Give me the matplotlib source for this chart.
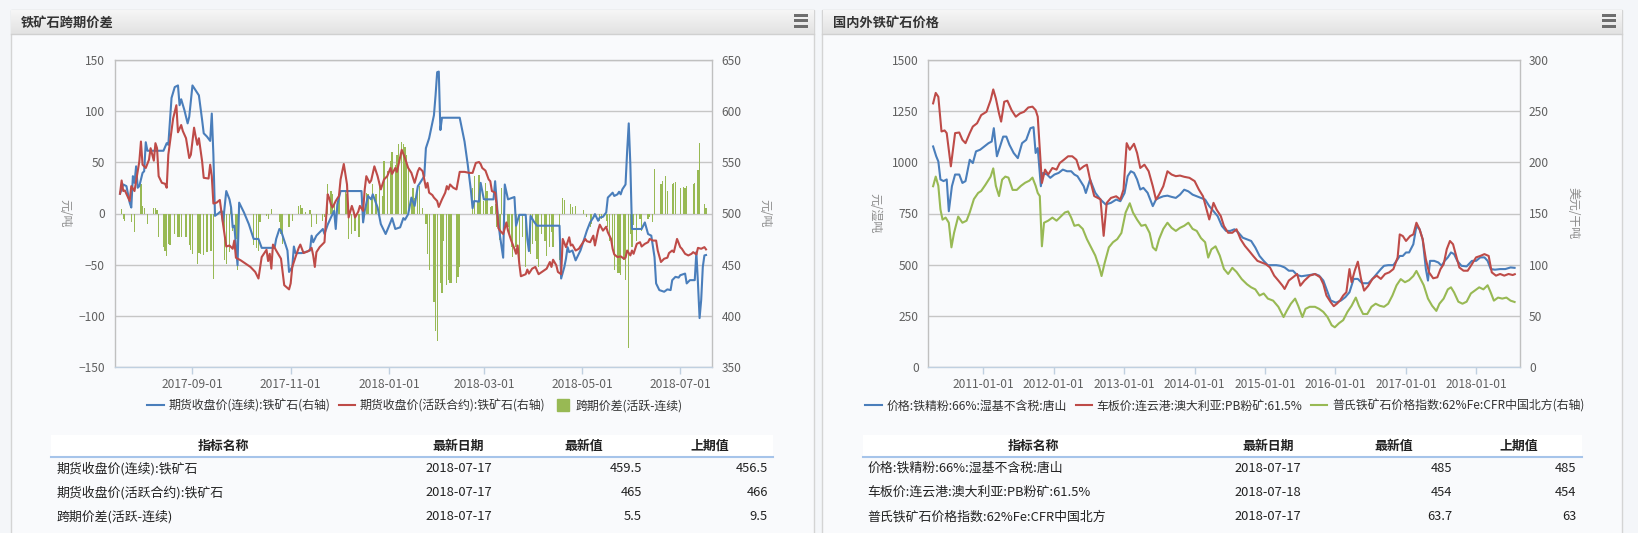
import numpy as np
import pandas as pd
import matplotlib
matplotlib.use("Agg")
import matplotlib.pyplot as plt
import matplotlib.dates as mdates
from matplotlib.patches import Rectangle
from matplotlib.lines import Line2D

plt.rcParams['font.family'] = ['Noto Sans CJK SC', 'DejaVu Sans']

# ---------------- DATA: left chart (days counted from 2017-09-01) ----------------
left_base = "2017-09-01"
cont_day = [-45,-43,-41,-39,-38,-37,-36,-35,-34,-33,-32,-31,-30,-29,-28,-18,-16,-15,-13,-11,
            -9,-8,-7,-5,-3,-2,0,2,4,6,7,9,11,12,13,14,16,18,19,21,23,24,25,26,28,29,32,35,38,41,
            43,51,52,54,55,57,59,60,62,63,64,68,73,74,75,76,77,80,81,82,84,86,88,89,90,92,105,106,107,109,
            111,112,115,117,120,123,124,126,129,131,132,134,136,138,140,141,
            144,145,147,150,151,152,153,154,155,166,169,171,173,174,175,178,179,181,187,188,
            190,191,193,194,196,200,201,203,207,208,209,210,212,214,228,229,231,232,233,234,
            236,238,241,243,245,247,249,250,252,253,255,257,258,260,261,262,264,265,266,267,
            269,270,271,272,273,279,281,283,285,287,288,290,293,295,297,298,300,302,303,306,
            307,309,312,313,314,315,316,317,318,319]
cont_price = [519.3,528.3,526.7,510.6,505.8,536.4,529.9,546.0,525.1,526.7,533.2,539.6,541.2,569.5,561.2,561.2,568.6,567.0,612.7,623.3,
              624.9,605.6,611.4,600.8,587.9,594.3,624.9,620.1,615.2,591.1,578.2,575.0,570.8,597.5,557.3,497.7,500.0,502.6,491.3,521.9,
              513.8,505.8,486.5,488.1,449.5,510.6,501.0,489.7,475.2,475.2,466.5,466.5,475.2,484.9,483.3,473.6,463.9,443.0,447.9,467.8,
              461.4,461.4,463.9,478.4,472.0,475.2,478.4,483.3,484.9,480.0,489.1,496.1,502.6,484.9,509.0,521.9,521.9,491.3,502.6,517.1,
              513.8,518.7,505.8,489.7,480.0,491.3,495.5,484.9,486.5,495.5,493.9,499.4,515.5,507.4,526.7,529.0,
              536.4,563.7,573.4,595.9,615.2,637.8,638.4,581.4,593.4,593.4,570.2,547.6,521.9,505.2,512.2,511.6,529.9,513.8,513.8,531.5,
              491.3,478.4,456.9,528.3,513.8,516.1,488.1,498.7,498.7,475.2,463.3,497.7,492.3,488.1,488.1,436.6,447.9,455.9,467.2,462.3,
              463.9,454.3,463.9,473.6,483.3,491.3,496.1,499.4,492.9,496.1,496.8,501.0,515.5,518.7,520.3,517.1,518.7,521.2,518.7,523.5,
              528.3,560.5,587.9,547.6,484.9,484.9,491.3,480.0,478.4,457.5,431.8,425.3,423.7,426.0,425.3,435.0,438.2,437.5,439.8,441.4,
              431.8,435.0,435.0,462.3,431.8,398.0,415.7,447.9,459.1,459.5]

active_day = [-45,-44,-43,-42,-40,-39,-38,-36,-35,-33,-32,-31,-29,-27,-26,-24,-23,-22,-21,-19,
              -17,-16,-15,-13,-12,-10,-9,-7,-6,-4,-2,-1,1,2,3,4,6,7,10,11,
              12,13,15,17,19,21,23,25,26,27,30,36,39,41,43,45,46,47,48,49,
              50,52,55,57,60,61,62,64,66,67,69,72,74,75,76,77,79,81,82,84,
              85,86,87,89,91,92,94,96,97,99,100,101,103,104,106,107,108,110,111,113,
              115,117,119,121,123,124,126,127,129,130,132,134,136,138,140,141,
              143,145,146,147,149,150,152,153,155,157,158,159,160,162,164,166,169,172,174,176,
              178,179,180,182,184,185,186,188,189,190,191,193,195,196,198,200,201,202,203,204,
              207,208,209,211,213,215,217,220,222,223,224,226,227,229,230,232,234,235,236,238,
              240,242,244,245,247,249,250,252,253,255,257,258,260,261,262,264,266,268,269,270,
              272,273,274,276,278,279,281,283,284,286,288,289,291,293,295,296,298,299,301,303,
              304,306,308,310,311,313,314,316,318,319]
active_price = [519.3,532.2,521.9,522.5,515.5,512.2,526.7,521.9,531.5,550.9,570.2,547.6,544.4,552.5,563.7,551.5,568.6,563.7,536.4,529.9,
                529.0,525.1,557.3,581.4,592.7,605.6,579.2,586.3,580.5,573.4,554.1,557.3,583.7,575.0,567.0,573.4,550.9,534.8,534.1,547.6,
                536.4,509.7,510.6,513.2,489.7,467.8,468.8,465.6,473.6,456.9,454.3,447.9,443.0,436.6,457.5,462.3,464.6,453.6,460.7,446.2,
                469.7,463.9,455.9,430.1,426.0,431.8,447.9,457.5,466.5,469.7,461.4,463.3,466.5,459.1,447.9,462.3,467.2,470.4,472.0,518.7,
                514.8,509.0,505.8,512.2,517.1,533.2,548.3,528.3,496.1,507.4,502.6,496.1,501.9,507.4,502.6,523.5,536.4,529.9,532.2,546.0,
                536.4,523.5,533.2,536.4,544.4,538.6,544.4,540.6,554.7,562.1,554.1,544.4,539.6,529.9,541.2,544.4,
                541.2,525.1,529.9,520.3,518.0,515.5,512.2,506.4,513.8,520.3,526.7,523.5,528.3,525.1,523.5,540.6,540.6,539.6,539.6,549.3,
                550.2,548.3,544.4,541.8,533.2,531.5,521.9,520.3,507.4,485.8,483.3,480.0,491.3,483.3,473.6,465.6,460.7,468.8,451.1,438.8,
                440.8,445.3,441.4,446.2,447.9,440.8,443.0,446.2,452.7,447.9,454.9,449.5,443.0,440.8,475.2,467.2,476.8,468.8,469.7,463.9,
                465.6,470.4,475.2,473.0,472.0,478.4,468.8,483.9,489.1,483.3,487.1,481.7,475.2,465.6,460.1,457.5,458.2,455.9,456.9,463.9,
                459.1,463.9,460.7,470.4,472.0,467.8,470.4,472.0,475.2,473.6,473.6,463.9,452.7,455.9,456.9,461.4,463.9,462.3,475.2,467.2,
                465.6,460.7,459.1,460.7,462.3,460.1,466.5,465.6,467.2,465.0]

spread_day = [-44,-43,-42,-38,-36,-32,-31,-30,-28,-24,-23,-22,-21,-18,-17,-16,-15,-14,-11,-9,
              -8,-7,-4,-2,-1,0,3,4,5,7,9,11,12,13,19,20,21,23,24,25,
              27,28,38,40,41,42,46,47,49,54,55,56,60,62,66,67,68,70,73,74,
              77,81,82,84,86,87,88,91,95,96,97,99,101,103,104,108,109,111,112,114,
              116,118,119,121,123,124,126,127,128,130,131,132,133,134,136,137,138,140,
              141,143,145,146,147,150,151,152,154,155,156,158,159,160,161,164,165,166,174,175,
              177,178,179,181,182,183,185,186,188,189,191,192,193,196,197,198,199,201,203,205,
              207,210,211,213,214,215,217,219,220,222,223,224,228,230,231,235,236,238,243,245,
              247,248,250,253,254,257,258,259,261,262,264,265,266,268,269,271,272,273,274,276,
              278,279,283,284,286,287,291,292,294,295,298,299,300,303,305,306,307,311,312,314,
              315,318,319]
spread_val = [4.2,-5.5,-7.1,-8.7,-18.3,28.3,7.4,5.2,-10.3,5.8,5.8,3.2,-23.2,-32.2,-36.1,-41.9,-29.6,-30.3,-19.9,-23.2,
              -22.5,-23.2,-22.5,-31.2,-35.4,-39.9,-49.2,-38.6,-39.3,-40.9,-37.7,-36.1,-36.1,-63.5,2.6,-45.4,-49.2,-37.7,5.8,-16.7,
              -24.5,-55.0,-31.2,-33.2,-36.1,-8.7,-2.3,-5.5,4.2,-8.7,-19.9,-29.6,-13.5,-7.1,7.4,8.4,5.8,1.9,3.2,-13.5,
              -10.3,-7.1,-3.9,29.0,21.6,18.7,9.0,18.7,21.2,18.7,-24.5,-19.9,-16.7,-23.2,-23.2,20.3,18.7,15.5,28.3,18.7,
              31.9,17.1,51.2,41.5,51.2,59.6,47.7,57.3,67.9,69.9,67.9,65.0,57.3,44.4,12.2,24.8,15.5,21.6,
              26.7,5.8,-10.3,-39.3,-55.0,-86.3,-114.9,-124.6,-68.0,-77.6,-26.4,-70.2,-65.0,-68.0,-68.0,-68.0,-61.5,-52.1,25.1,36.4,
              12.2,38.0,21.6,12.2,29.9,21.6,6.4,7.4,9.0,-13.5,-25.8,25.1,-36.1,-13.5,-21.6,-32.9,-42.5,-32.9,-49.2,-23.2,
              -52.1,-39.3,-29.6,-26.4,-44.4,-52.1,-19.9,-26.4,-41.2,-32.9,-18.3,-32.9,-45.4,15.5,13.5,9.7,6.4,7.4,3.2,-3.9,
              -13.5,-10.3,-3.9,-7.1,-5.5,-7.1,-13.5,-26.4,-29.6,-55.0,-58.0,-58.0,-60.0,-45.4,-65.0,-131.2,-19.9,-32.9,-11.6,-26.4,
              -5.5,-16.7,-5.5,-3.9,-8.7,43.1,28.3,31.9,36.4,21.6,28.3,29.9,31.2,25.1,25.8,25.1,26.7,28.3,30.0,42.2,
              68.3,9.5,5.5]

# ---------------- DATA: right chart (decimal years) ----------------
tangshan_yr = [2010.287,2010.331,2010.361,2010.391,2010.435,2010.480,2010.510,2010.554,2010.599,2010.658,
               2010.703,2010.747,2010.807,2010.851,2010.896,2010.955,2011.015,2011.074,2011.119,2011.149,
               2011.193,2011.238,2011.282,2011.327,2011.371,2011.431,2011.490,2011.550,2011.609,2011.669,
               2011.713,2011.743,2011.773,2011.817,2011.847,2011.906,2011.951,2012.010,2012.070,2012.129,
               2012.189,2012.248,2012.293,2012.337,2012.426,2012.456,2012.516,2012.590,2012.664,2012.738,
               2012.813,2012.887,2012.946,2013.006,2013.050,2013.095,2013.140,2013.184,2013.229,2013.273,
               2013.333,2013.407,2013.452,2013.496,2013.556,2013.615,2013.674,2013.734,2013.793,2013.853,
               2013.912,2013.972,2014.031,2014.091,2014.150,2014.209,2014.269,2014.328,2014.388,2014.447,
               2014.506,2014.566,2014.625,2014.685,2014.744,2014.804,2014.863,2014.923,2014.982,2015.041,
               2015.160,2015.220,2015.279,2015.339,2015.398,2015.457,2015.517,2015.576,2015.636,2015.710,
               2015.769,2015.829,2015.873,2015.933,2016.007,2016.081,2016.141,2016.200,2016.260,2016.319,
               2016.379,2016.468,2016.527,2016.587,2016.646,2016.691,2016.750,2016.824,2016.884,2016.914,
               2016.958,2017.003,2017.047,2017.107,2017.151,2017.196,2017.240,2017.285,2017.315,2017.344,
               2017.404,2017.463,2017.508,2017.552,2017.597,2017.642,2017.686,2017.731,2017.790,2017.864,
               2017.939,2017.998,2018.058,2018.117,2018.162,2018.206,2018.266,2018.340,2018.414,2018.488,
               2018.545]
tangshan_val = [1077,1029,1004,916,908,916,761,883,940,940,
                899,908,1012,996,1053,1061,1077,1093,1101,1166,
                1029,1077,1125,1125,1085,1045,1020,1093,1109,1166,
                1171,1045,1069,883,948,940,924,940,948,964,
                956,956,940,932,883,850,916,851,818,794,
                802,818,810,850,932,956,948,916,867,875,
                851,786,818,826,834,837,831,826,842,866,
                858,842,834,826,818,786,761,737,689,665,
                665,673,656,632,624,616,584,543,519,498,
                498,495,487,471,471,450,444,447,450,455,
                447,423,382,326,315,326,342,366,431,431,
                410,410,431,455,479,495,498,498,527,543,
                543,560,560,600,689,673,624,479,423,519,
                519,511,495,519,536,560,552,519,495,492,
                519,519,536,536,519,479,476,479,479,487,
                485]

pb_yr = [2010.287,2010.324,2010.361,2010.406,2010.450,2010.480,2010.539,2010.599,2010.658,2010.703,
         2010.747,2010.807,2010.851,2010.911,2010.970,2011.045,2011.104,2011.141,2011.178,2011.223,
         2011.253,2011.297,2011.342,2011.401,2011.461,2011.520,2011.579,2011.639,2011.698,2011.743,
         2011.773,2011.802,2011.832,2011.877,2011.921,2011.981,2012.040,2012.085,2012.144,2012.204,
         2012.263,2012.322,2012.367,2012.426,2012.471,2012.516,2012.575,2012.664,2012.709,2012.753,
         2012.813,2012.887,2012.946,2012.991,2013.036,2013.080,2013.140,2013.184,2013.229,2013.288,
         2013.348,2013.407,2013.452,2013.496,2013.556,2013.615,2013.674,2013.734,2013.793,2013.853,
         2013.927,2014.001,2014.061,2014.120,2014.209,2014.269,2014.313,2014.373,2014.417,2014.477,
         2014.536,2014.596,2014.655,2014.715,2014.774,2014.833,2014.893,2014.952,2015.012,2015.071,
         2015.131,2015.190,2015.249,2015.279,2015.339,2015.398,2015.457,2015.502,2015.561,2015.636,
         2015.710,2015.784,2015.829,2015.873,2015.933,2015.977,2016.022,2016.067,2016.111,2016.156,
         2016.200,2016.230,2016.275,2016.319,2016.364,2016.408,2016.468,2016.527,2016.587,2016.646,
         2016.706,2016.765,2016.824,2016.884,2016.914,2016.958,2017.003,2017.062,2017.107,2017.151,
         2017.196,2017.240,2017.285,2017.330,2017.389,2017.448,2017.493,2017.538,2017.582,2017.627,
         2017.671,2017.716,2017.760,2017.820,2017.879,2017.939,2017.998,2018.058,2018.117,2018.177,
         2018.221,2018.281,2018.340,2018.399,2018.459,2018.518,2018.548]
pb_val = [1287,1338,1319,1150,1155,1142,980,1142,1145,1109,
          1093,1142,1174,1190,1230,1246,1303,1355,1311,1238,
          1198,1295,1300,1254,1222,1238,1246,1267,1271,1254,
          1222,1061,899,964,940,972,964,996,1012,1029,
          1029,1012,964,980,988,916,835,819,641,802,
          826,834,818,867,1093,1061,1090,1045,972,988,
          956,883,818,842,883,956,940,932,935,929,
          924,908,867,834,721,802,769,737,689,656,
          656,673,624,592,568,543,519,511,503,487,
          447,423,398,382,423,439,455,398,423,447,
          455,439,406,350,318,298,310,326,350,366,
          479,415,471,515,431,374,398,431,447,431,
          455,463,479,536,648,640,616,640,648,705,
          673,624,527,463,434,439,479,503,576,616,
          600,543,487,471,471,503,536,543,552,543,
          463,447,455,447,455,450,454]

platts_yr = [2010.287,2010.324,2010.361,2010.391,2010.421,2010.465,2010.510,2010.547,2010.584,2010.643,
             2010.703,2010.762,2010.807,2010.866,2010.926,2010.970,2011.030,2011.104,2011.141,2011.178,
             2011.223,2011.267,2011.312,2011.357,2011.416,2011.475,2011.535,2011.594,2011.654,2011.698,
             2011.743,2011.773,2011.802,2011.832,2011.862,2011.921,2011.981,2012.040,2012.099,2012.159,
             2012.204,2012.248,2012.293,2012.352,2012.412,2012.471,2012.530,2012.590,2012.649,2012.679,
             2012.724,2012.783,2012.842,2012.902,2012.961,2013.021,2013.080,2013.125,2013.184,2013.244,
             2013.303,2013.362,2013.407,2013.452,2013.496,2013.556,2013.615,2013.674,2013.734,2013.793,
             2013.853,2013.912,2013.972,2014.031,2014.091,2014.150,2014.194,2014.239,2014.298,2014.358,
             2014.417,2014.477,2014.536,2014.596,2014.670,2014.744,2014.804,2014.863,2014.923,2014.982,
             2015.041,2015.116,2015.190,2015.264,2015.309,2015.368,2015.428,2015.472,2015.532,2015.576,
             2015.636,2015.710,2015.769,2015.829,2015.888,2015.948,2015.992,2016.052,2016.111,2016.171,
             2016.230,2016.290,2016.334,2016.393,2016.453,2016.512,2016.572,2016.631,2016.691,2016.750,
             2016.810,2016.869,2016.928,2016.988,2017.047,2017.107,2017.151,2017.196,2017.255,2017.315,
             2017.374,2017.434,2017.478,2017.538,2017.597,2017.642,2017.686,2017.746,2017.805,2017.864,
             2017.924,2017.983,2018.043,2018.102,2018.162,2018.206,2018.251,2018.310,2018.370,2018.429,
             2018.488,2018.545]
platts_val = [176.6,186,177,154,144,146,141,117,131,147,
              141,143,151,164,170,172,178,186,194,177,
              167,183,186,185,173,173,177,180,182,185,
              177,170,167,118,141,143,146,143,147,151,
              152,146,138,139,135,125,117,109,97,89,
              102,117,122,125,131,151,160,151,144,138,
              139,131,117,114,125,135,141,136,133,136,
              138,141,135,133,126,122,107,115,118,109,
              96,91,97,93,86,81,78,76,70,72,
              67,65,59,49,55,62,67,60,49,57,
              59,59,57,54,49,41,39,43,46,54,
              60,68,60,52,52,59,62,60,59,62,
              70,80,86,83,85,89,94,88,80,67,
              60,55,62,67,76,78,73,64,62,64,
              72,75,78,76,80,73,65,68,67,68,
              65,63.7]

# ---------------- DATA: tables ----------------
table_header = ["指标名称", "最新日期", "最新值", "上期值"]
left_rows = [["期货收盘价(连续):铁矿石", "2018-07-17", "459.5", "456.5"],
             ["期货收盘价(活跃合约):铁矿石", "2018-07-17", "465", "466"],
             ["跨期价差(活跃-连续)", "2018-07-17", "5.5", "9.5"]]
right_rows = [["价格:铁精粉:66%:湿基不含税:唐山", "2018-07-17", "485", "485"],
              ["车板价:连云港:澳大利亚:PB粉矿:61.5%", "2018-07-18", "454", "454"],
              ["普氏铁矿石价格指数:62%Fe:CFR中国北方", "2018-07-17", "63.7", "63"]]
left_names = ["期货收盘价(连续):铁矿石(右轴)", "期货收盘价(活跃合约):铁矿石(右轴)", "跨期价差(活跃-连续)"]
right_names = ["价格:铁精粉:66%:湿基不含税:唐山", "车板价:连云港:澳大利亚:PB粉矿:61.5%",
               "普氏铁矿石价格指数:62%Fe:CFR中国北方(右轴)"]

# ---------------- STYLE ----------------
W, H = 1638, 533
PAGE = '#f4f6f9'
PANEL = '#f9fafc'
BLUE, RED, GREEN = '#4a7ebb', '#be4b48', '#98b954'
GRID = '#c6c6c6'
TICKC = '#606060'

fig = plt.figure(figsize=(W / 100, H / 100), dpi=100)
fig.patch.set_facecolor(PAGE)


def fx(x):
    return x / W


def fy(y):
    return 1 - y / H


def px_axes(x0, y0, x1, y1, **kw):
    return fig.add_axes([fx(x0), fy(y1), (x1 - x0) / W, (y1 - y0) / H], **kw)


def panel(x0, x1, title, tx):
    fig.add_artist(Rectangle((fx(x0), fy(540)), (x1 - x0) / W, (540 - 9.5) / H,
                             transform=fig.transFigure, facecolor=PANEL,
                             edgecolor='#d4d4d4', lw=1, zorder=0))
    hax = px_axes(x0 + 0.5, 10, x1 - 0.5, 34.5)
    grad = np.linspace(0, 1, 50).reshape(-1, 1)
    from matplotlib.colors import LinearSegmentedColormap
    cmap = LinearSegmentedColormap.from_list('hdr', ['#f7f7f7', '#e2e2e2'])
    hax.imshow(grad, aspect='auto', cmap=cmap, extent=[0, 1, 1, 0])
    hax.set_axis_off()
    fig.add_artist(Line2D([fx(x0), fx(x1)], [fy(34.5), fy(34.5)], transform=fig.transFigure,
                          color='#d0d0d0', lw=1))
    fig.text(fx(tx), fy(22.5), title, fontsize=9.5, fontweight='bold', color='#333333',
             ha='left', va='center')
    # menu icon
    for yy in (14.2, 19.5, 24.8):
        fig.add_artist(Rectangle((fx(x1 - 20), fy(yy + 2.7)), 14 / W, 2.7 / H,
                                 transform=fig.transFigure, facecolor='#6e6e6e', lw=0))


panel(10.5, 814, '铁矿石跨期价差', 21)
panel(822, 1622, '国内外铁矿石价格', 832.5)


def style_axes(ax, axr):
    ax.set_facecolor(PANEL)
    ax.yaxis.grid(True, color=GRID, lw=1)
    ax.set_axisbelow(True)
    for s in ('top', 'left', 'right'):
        ax.spines[s].set_color('#c0c0c0')
        ax.spines[s].set_linewidth(1)
    ax.spines['bottom'].set_color('#c0d0e0')
    ax.spines['bottom'].set_linewidth(1)
    for s in axr.spines.values():
        s.set_visible(False)
    ax.tick_params(axis='y', length=0, pad=7, labelsize=8.6, labelcolor=TICKC)
    axr.tick_params(axis='y', length=0, pad=6.5, labelsize=8.6, labelcolor=TICKC)
    ax.tick_params(axis='x', length=5, width=1, color='#c0d0e0', pad=3, labelsize=8.6,
                   labelcolor=TICKC, direction='out')


# ---------------- LEFT CHART ----------------
base = pd.Timestamp(left_base)
to_d = lambda d: base + pd.to_timedelta(np.asarray(d, dtype=float), unit='D')

ax1 = px_axes(114.7, 59.7, 712.3, 367.3)
ax1r = ax1.twinx()
bars = ax1.bar(to_d(spread_day), spread_val, width=0.75, color=GREEN, linewidth=0)
l1, = ax1r.plot(to_d(cont_day), cont_price, color=BLUE, lw=1.5, solid_joinstyle='round')
l2, = ax1r.plot(to_d(active_day), active_price, color=RED, lw=1.5, solid_joinstyle='round')
ax1.set_ylim(-150, 150)
ax1.set_yticks(np.arange(-150, 151, 50))
ax1r.set_ylim(350, 650)
ax1r.set_yticks(np.arange(350, 651, 50))
ax1.set_xlim(to_d([-48.3])[0], to_d([322.9])[0])
ax1.xaxis.set_major_locator(mdates.MonthLocator(bymonth=[1, 3, 5, 7, 9, 11]))
ax1.xaxis.set_major_formatter(mdates.DateFormatter('%Y-%m-%d'))
style_axes(ax1, ax1r)
ax1.set_ylabel('元/吨', rotation=270, fontsize=8.6, color='#8c8c8c', ha='center', va='center')
ax1.yaxis.set_label_coords((65 - 114.7) / 597.6, 0.5)
ax1r.set_ylabel('元/吨', rotation=270, fontsize=8.6, color='#8c8c8c', ha='center', va='center')
ax1r.yaxis.set_label_coords((765 - 114.7) / 597.6, 0.5)

sq = Line2D([], [], marker='s', linestyle='None', color=GREEN, markersize=9)
fig.legend([l1, l2, sq], left_names, loc='center', bbox_to_anchor=(fx(415), fy(406)),
           ncol=3, frameon=False, fontsize=8.6, handlelength=1.35, handletextpad=0.4,
           columnspacing=0.75, labelcolor='#333333', borderpad=0)

# ---------------- RIGHT CHART ----------------
ybase = pd.Timestamp('2011-01-01')
to_y = lambda y: ybase + pd.to_timedelta((np.asarray(y, dtype=float) - 2011) * 365.25, unit='D')

ax2 = px_axes(928.4, 59.7, 1520, 367.3)
ax2r = ax2.twinx()
r1, = ax2.plot(to_y(tangshan_yr), tangshan_val, color=BLUE, lw=1.5)
r2, = ax2.plot(to_y(pb_yr), pb_val, color=RED, lw=1.5)
r3, = ax2r.plot(to_y(platts_yr), platts_val, color=GREEN, lw=1.5)
ax2.set_ylim(0, 1500)
ax2.set_yticks(np.arange(0, 1501, 250))
ax2r.set_ylim(0, 300)
ax2r.set_yticks(np.arange(0, 301, 50))
ax2.set_xlim(to_y([2010.220])[0], to_y([2018.622])[0])
ax2.xaxis.set_major_locator(mdates.YearLocator())
ax2.xaxis.set_major_formatter(mdates.DateFormatter('%Y-%m-%d'))
style_axes(ax2, ax2r)
ax2.set_ylabel('元/湿吨', rotation=270, fontsize=8.6, color='#8c8c8c', ha='center', va='center')
ax2.yaxis.set_label_coords((875 - 928.4) / 591.6, 0.5)
ax2r.set_ylabel('美元/干吨', rotation=270, fontsize=8.6, color='#8c8c8c', ha='center', va='center')
ax2r.yaxis.set_label_coords((1573 - 928.4) / 591.6, 0.5)

fig.legend([r1, r2, r3], right_names, loc='center', bbox_to_anchor=(fx(1225), fy(406)),
           ncol=3, frameon=False, fontsize=8.6, handlelength=1.35, handletextpad=0.4,
           columnspacing=0.75, labelcolor='#333333', borderpad=0)

# ---------------- TABLES ----------------
def draw_table(x0, x1, hdr_x, name_x, date_x, v1_x, v2_x, rows):
    fig.add_artist(Rectangle((fx(x0), fy(457)), (x1 - x0) / W, 22 / H,
                             transform=fig.transFigure, facecolor='white', lw=0))
    fig.add_artist(Line2D([fx(x0), fx(x1)], [fy(457), fy(457)], transform=fig.transFigure,
                          color='#a6c4ea', lw=1.5))
    for t, xc in zip(table_header, hdr_x):
        fig.text(fx(xc), fy(446), t, fontsize=9.3, fontweight='bold', color='#222222',
                 ha='center', va='center')
    for i, r in enumerate(rows):
        yy = fy(468.5 + 24.2 * i)
        fig.text(fx(name_x), yy, r[0], fontsize=9.3, color='#222222', ha='left', va='center')
        fig.text(fx(date_x), yy, r[1], fontsize=9.3, color='#222222', ha='center', va='center')
        fig.text(fx(v1_x), yy, r[2], fontsize=9.3, color='#222222', ha='right', va='center')
        fig.text(fx(v2_x), yy, r[3], fontsize=9.3, color='#222222', ha='right', va='center')


draw_table(51, 773, [223.5, 458, 584, 710], 56, 458.4, 642, 767.8, left_rows)
draw_table(862.5, 1581.6, [1033.5, 1267.8, 1393.3, 1518.8], 867.7, 1267.8, 1451.9, 1576.4, right_rows)

fig.savefig('out.png', dpi=100, facecolor=fig.get_facecolor())
